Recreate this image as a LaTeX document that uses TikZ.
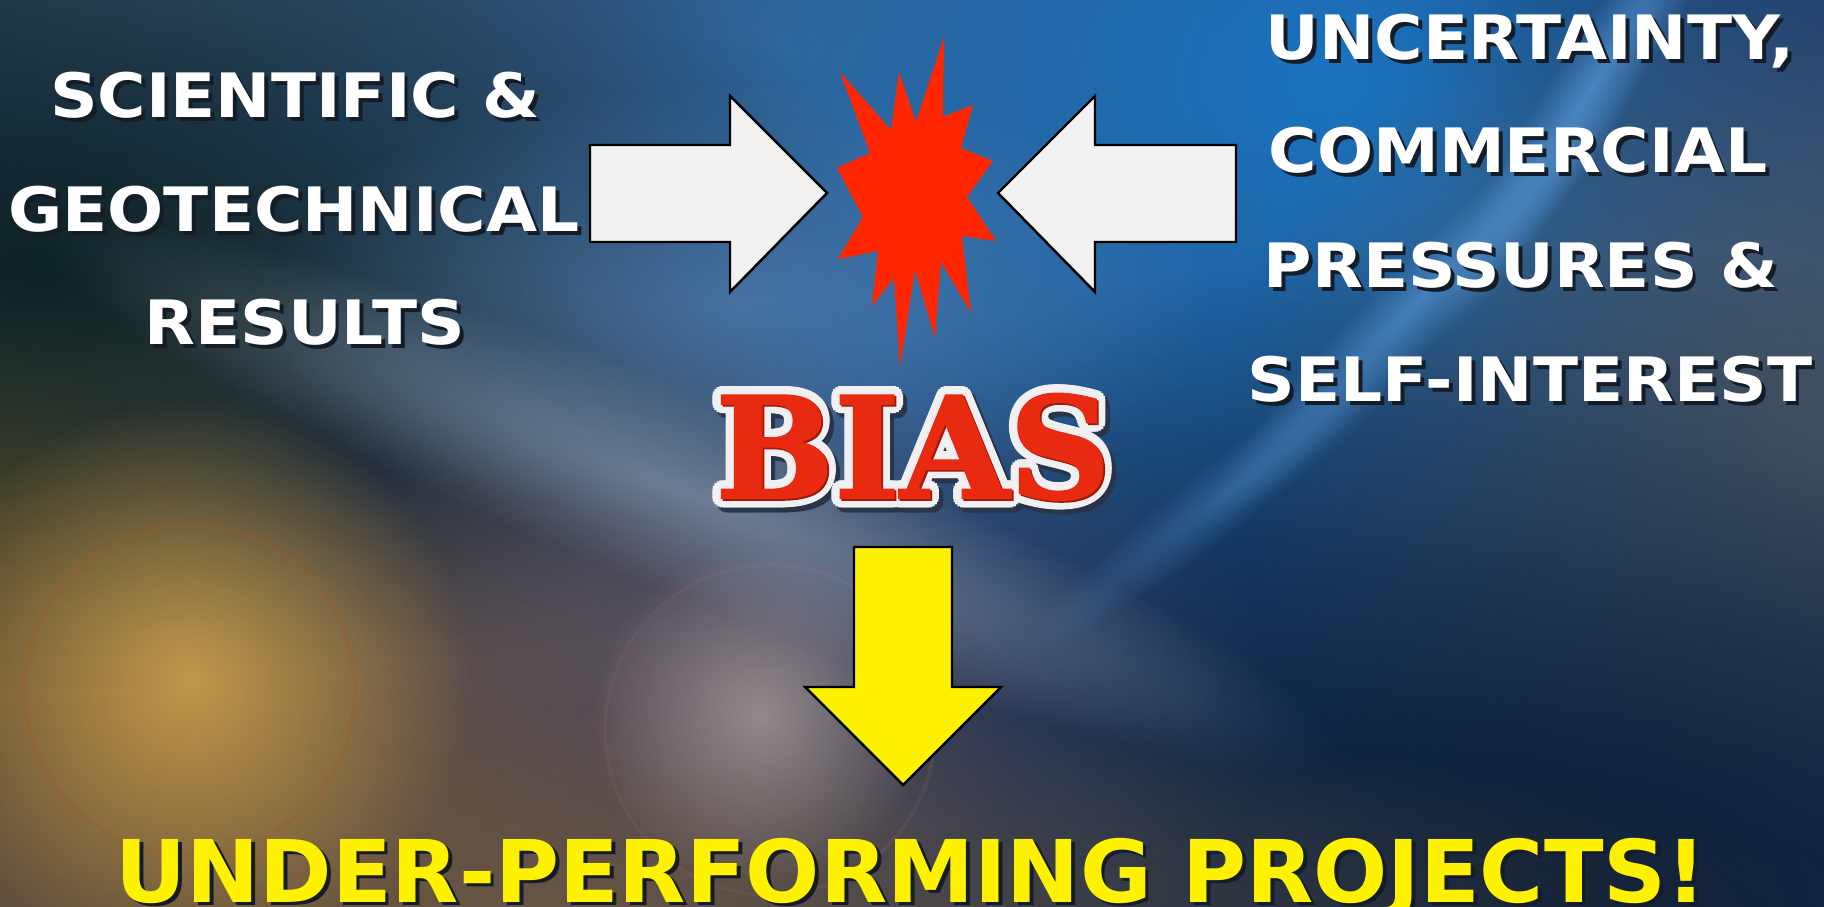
\documentclass[tikz,border=0pt]{standalone}
\usepackage{fontspec}
\setmainfont{DejaVu Sans}
\newfontfamily\sidefont{DejaVu Sans}[FakeStretch=1.08]
\newfontfamily\bottomfont{DejaVu Sans}[FakeStretch=1.01]
\newfontfamily\biasfont{DejaVu Serif}[FakeBold=1.5]
\usepackage{xcolor}
\usepackage{tikz}
\usetikzlibrary{fadings}

\definecolor{bgbase}{HTML}{1D3A62}
\definecolor{bgteal}{HTML}{0B2022}
\definecolor{bgdusk}{HTML}{16263A}
\definecolor{bggrey}{HTML}{3A4C56}
\definecolor{bgsky}{HTML}{3C6C9E}
\definecolor{bgglow}{HTML}{5A86BA}
\definecolor{bgbright}{HTML}{1A78C8}
\definecolor{bgcorner}{HTML}{1E3C6A}
\definecolor{bgslate}{HTML}{56606A}
\definecolor{bgnavy}{HTML}{081A34}
\definecolor{bgstreak}{HTML}{9AAEC8}
\definecolor{bgolive}{HTML}{7A7030}
\definecolor{bgbrown}{HTML}{7A5424}
\definecolor{bgmauve}{HTML}{6E5A6C}
\definecolor{bgsand}{HTML}{7A6040}
\definecolor{flareorange}{HTML}{C8A050}
\definecolor{flarepale}{HTML}{B0A4A0}
\definecolor{ringorange}{HTML}{A05A22}
\definecolor{ringpink}{HTML}{966464}
\definecolor{arclight}{HTML}{5A9ADC}
\definecolor{arrowgrey}{HTML}{F2F2F2}
\definecolor{boomred}{HTML}{FF2600}
\definecolor{biasred}{HTML}{E82A10}
\definecolor{biasdark}{HTML}{A01808}
\definecolor{biasrim}{HTML}{F0F0F2}
\definecolor{biasshade}{HTML}{2A3448}
\definecolor{txtshadow}{HTML}{141C28}

\tikzfading[name=softglow, inner color=transparent!0, outer color=transparent!100]

\newcommand\dropshadow[1]{\makebox[0pt][l]{\kern1.1pt\raisebox{-1.1pt}{\textcolor{txtshadow}{#1}}}#1}

\tikzset{
  blob/.style={path fading=softglow},
  sidetext/.style={text=white, font=\fontsize{17.4}{20}\selectfont\sidefont\bfseries, anchor=base, inner sep=0pt},
  bottomtext/.style={text=yellow, font=\fontsize{24.6}{28}\selectfont\bottomfont\bfseries, anchor=base, inner sep=0pt},
  biastext/.style={font=\fontsize{40}{44}\selectfont\biasfont\bfseries, anchor=base, inner sep=0pt},
  blockarrow/.style={draw=black, line width=0.7pt, line join=miter},
}

\begin{document}
\begin{tikzpicture}[x=0.01cm, y=-0.01cm]
    \useasboundingbox (0,0) rectangle (1824,907);
    \clip (0,0) rectangle (1824,907);

    % background
    \fill[bgbase] (0,0) rectangle (1824,907);
    \fill[blob, fill=bggrey, opacity=0.7] (150,0) ellipse [x radius=800, y radius=280];
    \fill[blob, fill=bgsky, opacity=0.75] (800,40) ellipse [x radius=840, y radius=560];
    \fill[blob, fill=bgsky, opacity=0.5] (650,380) ellipse [x radius=700, y radius=400];
    \fill[blob, fill=bgbright, opacity=0.9] (1330,80) ellipse [x radius=760, y radius=660];
    \fill[blob, fill=bgcorner, opacity=0.7] (1824,20) ellipse [x radius=400, y radius=520];
    \fill[blob, fill=bgslate, opacity=0.95] (1824,450) ellipse [x radius=600, y radius=520];
    \fill[blob, fill=bgnavy, opacity=0.95] (1550,907) ellipse [x radius=1200, y radius=660];
    \fill[blob, fill=bgolive, opacity=0.8] (0,480) ellipse [x radius=560, y radius=280];
    \fill[blob, fill=bgbrown, opacity=0.9] (170,730) ellipse [x radius=840, y radius=600];
    \fill[blob, fill=bgteal, opacity=0.95] (40,270) ellipse [x radius=860, y radius=420];
    \fill[blob, fill=bgdusk, opacity=0.7] (380,470) ellipse [x radius=420, y radius=200];
    \fill[blob, fill=bgmauve, opacity=0.55] (720,690) ellipse [x radius=560, y radius=360];
    \fill[blob, fill=bgsand, opacity=0.6] (560,907) ellipse [x radius=1300, y radius=200];
    \fill[blob, fill=flareorange, opacity=0.9] (190,680) ellipse [x radius=280, y radius=280];
    \fill[blob, fill=flarepale, opacity=0.7] (760,715) ellipse [x radius=170, y radius=170];
    \fill[blob, fill=bgglow, opacity=0.6] (740,300) ellipse [x radius=480, y radius=220];
    \draw[ringorange, opacity=0.25, line width=1.2pt] (190,690) circle [radius=165];
    \draw[ringpink, opacity=0.18, line width=1pt] (770,730) circle [radius=165];

    % soft light streaks
    \begin{scope}[transform canvas={shift={(690,495)}, rotate=-22}]
      \fill[blob, fill=bgstreak, opacity=0.5] (0,0) ellipse [x radius=700, y radius=100];
    \end{scope}
    \begin{scope}[transform canvas={shift={(1590,90)}, rotate=58}]
      \fill[blob, fill=arclight, opacity=0.7] (0,0) ellipse [x radius=300, y radius=40];
    \end{scope}
    \begin{scope}[transform canvas={shift={(1420,300)}, rotate=46}]
      \fill[blob, fill=arclight, opacity=0.6] (0,0) ellipse [x radius=320, y radius=40];
    \end{scope}
    \begin{scope}[transform canvas={shift={(1230,490)}, rotate=38}]
      \fill[blob, fill=arclight, opacity=0.35] (0,0) ellipse [x radius=260, y radius=36];
    \end{scope}

    % side texts
    \node[sidetext] (sci) at (295,118) {\dropshadow{SCIENTIFIC \&}};
    \node[sidetext] (geo) at (294,232) {\dropshadow{GEOTECHNICAL}};
    \node[sidetext] (res) at (305,345) {\dropshadow{RESULTS}};

    \node[sidetext] (unc) at (1530,60) {\dropshadow{UNCERTAINTY,}};
    \node[sidetext] (com) at (1518,173) {\dropshadow{COMMERCIAL}};
    \node[sidetext] (pre) at (1521,288) {\dropshadow{PRESSURES \&}};
    \node[sidetext] (sel) at (1530,402) {\dropshadow{SELF-INTEREST}};

    % arrows into the clash
    \draw[blockarrow, fill=arrowgrey] (590,145) -- (730,145) -- (730,96) -- (827,193)
        -- (730,292) -- (730,242) -- (590,242) -- cycle;
    \draw[blockarrow, fill=arrowgrey] (1236,145) -- (1095,145) -- (1095,96) -- (998,193)
        -- (1095,292) -- (1095,242) -- (1236,242) -- cycle;

    % the clash
    \fill[boomred] (944,37) -- (943,117) -- (973,105) -- (961,148) -- (993,161)
        -- (967,197) -- (996,241) -- (962,236) -- (971,313) -- (941,262)
        -- (935,338) -- (915,270) -- (900,367) -- (894,278) -- (872,306)
        -- (878,251) -- (838,259) -- (863,217) -- (837,168) -- (870,153)
        -- (840,72) -- (891,130) -- (899,72) -- (916,122) -- cycle;

    % BIAS
    \coordinate (biaspos) at (913,498);
    \foreach \a in {0,20,...,340}
      \node[biastext, text=biasshade] (bshadow\a) at ([shift={(\a:2.4pt)}] biaspos) [xshift=1.2pt, yshift=-1.4pt] {BIAS};
    \foreach \a in {0,20,...,340}
      \node[biastext, text=biasrim] (brim\a) at ([shift={(\a:2.4pt)}] biaspos) {BIAS};
    \node[biastext, text=biasdark] (bdark) at ([shift={(0.5pt,-0.5pt)}] biaspos) {BIAS};
    \node[biastext, text=biasred] (bias) at (biaspos) {BIAS};

    % down arrow
    \draw[blockarrow, fill=yellow] (854,547) -- (952,547) -- (952,687) -- (1001,687)
        -- (903,785) -- (805,687) -- (854,687) -- cycle;

    \node[bottomtext] (proj) at (911,902) {\dropshadow{UNDER-PERFORMING PROJECTS!}};
\end{tikzpicture}
\end{document}
